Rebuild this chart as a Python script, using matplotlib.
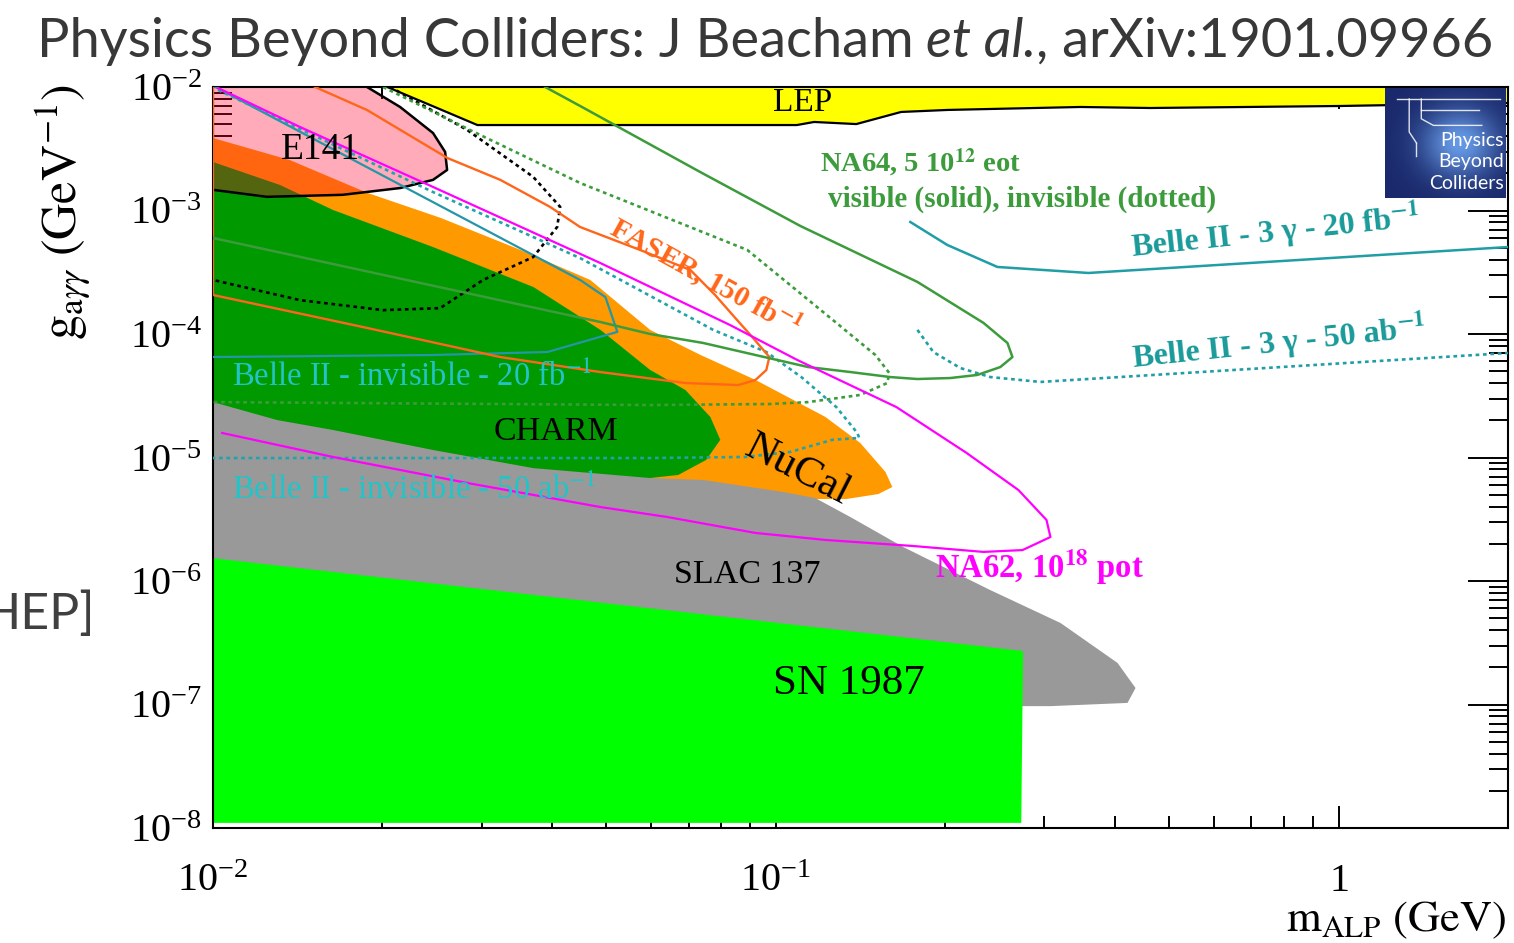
import numpy as np
import matplotlib.pyplot as plt
from matplotlib.ticker import LogLocator, NullFormatter

plt.rcParams.update({
    'mathtext.fontset': 'stix',
    'font.family': 'Liberation Serif',
})

# ---------------- excluded regions (m in GeV, g in GeV^-1) ----------------
lep_m = [0.0204, 0.0243, 0.0295, 0.0449, 0.109, 0.117, 0.139, 0.167, 0.202, 0.348, 0.463, 1.01, 2.0]
lep_g = [1.0e-2, 7.15e-3, 4.92e-3, 4.92e-3, 4.92e-3, 5.21e-3, 5.01e-3, 6.28e-3, 6.52e-3, 6.89e-3, 6.76e-3, 7.02e-3, 7.42e-3]

e141_m = [0.01, 0.01878, 0.0215, 0.0246, 0.02585, 0.02606, 0.0246, 0.0215, 0.0170, 0.01247, 0.01]
e141_g = [1e-2, 1e-2, 6.89e-3, 4.24e-3, 2.98e-3, 2.13e-3, 1.77e-3, 1.52e-3, 1.34e-3, 1.29e-3, 1.47e-3]

nucal_m = [0.01, 0.0137, 0.0188, 0.0254, 0.0352, 0.0468, 0.0598, 0.0735, 0.0920, 0.1225,
           0.1413, 0.1566, 0.1611, 0.1521, 0.1334, 0.1175, 0.1106, 0.01]
nucal_g = [3.86e-3, 2.56e-3, 1.39e-3, 8.7e-4, 4.79e-4, 2.74e-4, 1.08e-4, 6.76e-5, 4.25e-5, 2.13e-5,
           1.31e-5, 7.64e-6, 5.77e-6, 5.06e-6, 4.61e-6, 4.61e-6, 3.12e-6, 3.12e-6]

charm_m = [0.01, 0.01315, 0.01634, 0.0246, 0.0371, 0.0488, 0.0598, 0.0691, 0.0765, 0.0797,
           0.0752, 0.0671, 0.0598, 0.0574, 0.01]
charm_g = [2.47e-3, 1.61e-3, 1.01e-3, 5.06e-4, 2.40e-4, 1.08e-4, 5.12e-5, 3.52e-5, 2.13e-5, 1.39e-5,
           9.55e-6, 7.22e-6, 6.82e-6, 5.46e-6, 2.0e-5]

slac_m = [0.01, 0.0130, 0.01634, 0.0246, 0.0371, 0.0598, 0.0743, 0.1031, 0.1175, 0.1356, 0.1686,
          0.2404, 0.3206, 0.4048, 0.4357, 0.4217, 0.3077, 0.01]
slac_g = [2.81e-5, 2.01e-5, 1.67e-5, 1.15e-5, 8.2e-6, 6.82e-6, 6.58e-6, 5.26e-6, 4.70e-6, 3.3e-6, 1.88e-6,
          8.45e-7, 4.57e-7, 2.17e-7, 1.36e-7, 1.03e-7, 9.7e-8, 9.7e-8]

sn_m = [0.01, 0.275, 0.273, 0.01]
sn_g = [1.53e-6, 2.71e-7, 1.1e-8, 1.1e-8]

# ---------------- projected sensitivities ----------------
faser_m = [0.0100, 0.0100, 0.01878, 0.03237, 0.04875, 0.06905, 0.08577, 0.0920, 0.0962, 0.0974,
           0.0908, 0.0847, 0.0780, 0.0705, 0.0574, 0.0449, 0.0397, 0.0324, 0.0261, 0.01878, 0.01518]
faser_g = [1e-2, 2.07e-4, 1.12e-4, 6.51e-5, 4.92e-5, 4.01e-5, 3.86e-5, 4.24e-5, 5.11e-5, 6.51e-5,
           9.46e-5, 1.35e-4, 2.07e-4, 3.30e-4, 4.79e-4, 7.35e-4, 1.07e-3, 1.77e-3, 2.66e-3, 6.51e-3, 1e-2]

na64_vis_m = [0.03892, 0.04491, 0.07339, 0.1106, 0.1785, 0.2339, 0.2580, 0.2633, 0.2506, 0.2281,
              0.2042, 0.1785, 0.1598, 0.1357, 0.1142, 0.0920, 0.0743, 0.0598, 0.0488, 0.01]
na64_vis_g = [1.0e-2, 7.02e-3, 2.05e-3, 7.49e-4, 2.64e-4, 1.23e-4, 8.46e-5, 6.51e-5, 5.40e-5, 4.66e-5,
              4.40e-5, 4.32e-5, 4.48e-5, 4.92e-5, 5.40e-5, 6.76e-5, 8.46e-5, 1.0e-4, 1.25e-4, 5.99e-4]

na64_inv_m = [0.02005, 0.02983, 0.04491, 0.0890, 0.1276, 0.1503, 0.1591, 0.1578, 0.1413, 0.1142,
              0.0974, 0.0598, 0.01]
na64_inv_g = [1.0e-2, 4.09e-3, 1.67e-3, 4.79e-4, 1.25e-4, 6.76e-5, 4.83e-5, 4.01e-5, 3.21e-5, 2.81e-5,
              2.71e-5, 2.66e-5, 2.81e-5]

na62_m = [0.01021, 0.01428, 0.02461, 0.04875, 0.0830, 0.1092, 0.1638, 0.2182, 0.2699, 0.3027, 0.3076,
          0.2744, 0.2339, 0.1755, 0.1225, 0.0920, 0.0641, 0.0488, 0.0283, 0.01634, 0.01038]
na62_g = [9.81e-3, 4.74e-3, 1.55e-3, 3.76e-4, 1.18e-4, 6.16e-5, 2.56e-5, 1.09e-5, 5.45e-6, 3.12e-6, 2.27e-6,
          1.78e-6, 1.72e-6, 1.92e-6, 2.15e-6, 2.45e-6, 3.30e-6, 3.97e-6, 6.22e-6, 1.01e-5, 1.58e-5]

beam_dump_m = [0.02064, 0.02829, 0.03707, 0.04139, 0.04088, 0.03707, 0.0302, 0.02533, 0.02005, 0.01428, 0.0100]
beam_dump_g = [1e-2, 4.49e-3, 1.87e-3, 1.07e-3, 7.35e-4, 4.20e-4, 2.74e-4, 1.62e-4, 1.56e-4, 1.88e-4, 2.74e-4]

belle_inv20_m = [0.0101, 0.0449, 0.0498, 0.0523, 0.0393, 0.0246, 0.01]
belle_inv20_g = [1e-2, 2.74e-4, 1.99e-4, 1.04e-4, 7.15e-5, 6.76e-5, 6.51e-5]

belle_inv50_m = [0.01021, 0.02461, 0.0449, 0.0774, 0.0962, 0.1110, 0.1281, 0.1396, 0.1407, 0.1260,
                 0.1061, 0.0883, 0.0598, 0.01]
belle_inv50_g = [9.46e-3, 1.41e-3, 4.12e-4, 1.08e-4, 7.15e-5, 4.48e-5, 2.56e-5, 1.58e-5, 1.44e-5, 1.39e-5,
                 1.11e-5, 1.01e-5, 9.9e-6, 9.9e-6]

belle_3g20_m = [0.1734, 0.2017, 0.2476, 0.3594, 2.0]
belle_3g20_g = [8.07e-4, 5.26e-4, 3.49e-4, 3.12e-4, 5.06e-4]

belle_3g50_m = [0.1785, 0.1905, 0.2128, 0.2406, 0.2953, 0.5683, 2.0]
belle_3g50_g = [1.08e-4, 7.15e-5, 5.30e-5, 4.48e-5, 4.09e-5, 4.92e-5, 7.02e-5]

x_ticks = [0.01, 0.1, 1]
x_tick_labels = [r'$\mathdefault{10^{-2}}$', r'$\mathdefault{10^{-1}}$', r'$\mathdefault{1}$']

# ---------------- figure ----------------
W, H = 1514, 943
fig = plt.figure(figsize=(W / 100, H / 100), dpi=100)
ax = fig.add_axes([213 / W, 1 - 828 / H, 1295 / W, 741 / H])
ax.set_xscale('log')
ax.set_yscale('log')
ax.set_xlim(0.01, 2.0)
ax.set_ylim(1e-8, 1e-2)
ax.set_axisbelow(True)

# filled regions
ax.fill(lep_m + [2.0], lep_g + [1e-2], color='#ffff00', lw=0, zorder=1.0)
ax.fill(nucal_m, nucal_g, color='#ff9900', lw=0, zorder=1.1)
ax.fill(charm_m, charm_g, color='#009900', lw=0, zorder=1.2)
ax.fill(slac_m, slac_g, color='#999999', lw=0, zorder=1.3)
ax.fill(sn_m, sn_g, color='#00ff00', lw=0, zorder=1.4)
ax.fill(e141_m, e141_g, color=(1.0, 0.0, 0.19), alpha=0.33, lw=0, zorder=2.0)
ax.plot(lep_m, lep_g, color='black', lw=1.6, zorder=3)
ax.plot(e141_m[1:], e141_g[1:], color='black', lw=1.8, zorder=3)

# sensitivity curves
dots = (0, (1.4, 1.4))
ax.plot(belle_inv20_m, belle_inv20_g, color='#2596a6', lw=1.6, zorder=3)
ax.plot(belle_inv50_m, belle_inv50_g, color='#22a3ab', lw=1.9, ls=dots, zorder=3)
ax.plot(belle_3g20_m, belle_3g20_g, color='#1f9ea6', lw=1.8, zorder=3)
ax.plot(belle_3g50_m, belle_3g50_g, color='#1f9ea6', lw=1.9, ls=dots, zorder=3)
ax.plot(beam_dump_m, beam_dump_g, color='black', lw=1.9, ls=dots, zorder=3)
ax.plot(faser_m, faser_g, color='#ff6619', lw=1.7, zorder=3)
ax.plot(na64_inv_m, na64_inv_g, color='#3c9c3c', lw=1.9, ls=dots, zorder=3)
ax.plot(na64_vis_m, na64_vis_g, color='#3c9c3c', lw=1.8, zorder=3)
ax.plot(na62_m, na62_g, color='#ff00ff', lw=1.6, zorder=3)

# region labels
ax.text(0.1114, 7.42e-3, 'LEP', fontsize=24, ha='center', va='center', zorder=4)
ax.text(0.0155, 3.09e-3, 'E141', fontsize=27, ha='center', va='center', zorder=4)
ax.text(0.0406, 1.61e-5, 'CHARM', fontsize=24.5, ha='center', va='center', zorder=4)
ax.text(0.1092, 7.9e-6, 'NuCal', fontsize=31, ha='center', va='center', rotation=-27, zorder=4)
ax.text(0.0890, 1.12e-6, 'SLAC 137', fontsize=24.5, ha='center', va='center', zorder=4)
ax.text(0.1346, 1.47e-7, 'SN 1987', fontsize=31, ha='center', va='center', zorder=4)

ax.text(0.0749, 2.9e-4, r'FASER, 150 fb$^{\mathbf{-1}}$', fontsize=21, weight='bold', color='#ff6619',
        ha='center', va='center', rotation=-29, zorder=4)
ax.text(0.1200, 2.47e-3, r'NA64, 5 10$^{\mathbf{12}}$ eot', fontsize=20.5, weight='bold', color='#3c9c3c',
        ha='left', va='center', zorder=4)
ax.text(0.1239, 1.24e-3, 'visible (solid), invisible (dotted)', fontsize=21, weight='bold',
        color='#3c9c3c', ha='left', va='center', zorder=4)
ax.text(0.773, 6.7e-4, r'Belle II - 3 γ - 20 fb$^{\mathbf{-1}}$', fontsize=23, weight='bold',
        color='#1a9a9a', ha='center', va='center', rotation=6, zorder=4)
ax.text(0.782, 8.46e-5, r'Belle II - 3 γ - 50 ab$^{\mathbf{-1}}$', fontsize=23, weight='bold',
        color='#1a9a9a', ha='center', va='center', rotation=6, zorder=4)
ax.text(0.01081, 4.49e-5, r'Belle II - invisible - 20 fb$^{-1}$', fontsize=23.5, color='#22c4c8',
        ha='left', va='center', zorder=4)
ax.text(0.01081, 5.46e-6, r'Belle II - invisible - 50 ab$^{-1}$', fontsize=23.5, color='#22c4c8',
        ha='left', va='center', zorder=4)
ax.text(0.1921, 1.30e-6, r'NA62, 10$^{\mathbf{18}}$ pot', fontsize=23.5, weight='bold', color='#ff00ff',
        ha='left', va='center', zorder=4)

# axes, ticks
ax.set_xticks(x_ticks)
ax.set_xticklabels(x_tick_labels)
ax.xaxis.set_minor_locator(LogLocator(base=10, subs=np.arange(2, 10), numticks=20))
ax.yaxis.set_major_locator(LogLocator(base=10, numticks=20))
ax.yaxis.set_minor_locator(LogLocator(base=10, subs=np.arange(2, 10), numticks=20))
ax.xaxis.set_minor_formatter(NullFormatter())
ax.yaxis.set_minor_formatter(NullFormatter())
ax.tick_params(which='both', direction='in', top=True, right=True, width=1.4, labelsize=29)
ax.tick_params(axis='x', which='major', length=16, pad=25)
ax.tick_params(axis='x', which='minor', length=8.5)
ax.tick_params(axis='y', which='major', length=29, pad=8)
ax.tick_params(axis='y', which='minor', length=14)
for s in ax.spines.values():
    s.set_linewidth(1.5)

fig.text(63 / W, 1 - 84 / H, r'$\mathrm{g}_{\mathrm{a}\gamma\gamma}\ (\mathrm{GeV}^{\mathrm{-1}})$', fontsize=36,
         rotation=90, ha='center', va='top')
fig.text(1506 / W, 1 - 931 / H, r'$\mathrm{m}_{\mathrm{ALP}}\ (\mathrm{GeV})$', fontsize=32,
         ha='right', va='baseline')

# logo box, top right
logo = fig.add_axes([1385 / W, 1 - 198 / H, 121 / W, 110 / H])
yy, xx = np.mgrid[0:1:80j, 0:1:80j]
glow = np.exp(-((xx - 0.62) ** 2 + (yy - 0.5) ** 2) / 0.1)
dark = np.array([0.10, 0.16, 0.42])
light = np.array([0.40, 0.60, 0.90])
logo.imshow(dark + glow[..., None] * (light - dark), extent=(0, 1, 0, 1), origin='lower', aspect='auto')
for xs, ys in [([0.1, 0.95], [0.9, 0.9]), ([0.3, 0.78], [0.8, 0.8]), ([0.2, 0.2, 0.26], [0.9, 0.6, 0.5]),
               ([0.3, 0.3, 0.4, 0.8], [0.9, 0.72, 0.66, 0.66]), ([0.26, 0.26], [0.5, 0.38])]:
    logo.plot(xs, ys, color='white', lw=1.0, alpha=0.85)
for txt, yv in [('Physics', 0.52), ('Beyond', 0.33), ('Colliders', 0.13)]:
    logo.text(0.98, yv, txt, fontsize=14, family='Lato', color='white', ha='right', va='center')
logo.set_xlim(0, 1)
logo.set_ylim(0, 1)
logo.set_axis_off()

# header line
tstyle = dict(fontsize=39, family='Lato', color='#383838')
t1 = fig.text(37 / W, 1 - 57 / H, 'Physics Beyond Colliders: J Beacham', va='baseline', **tstyle)
t2 = ax.annotate('et al.', xy=(1, 0), xycoords=t1, xytext=(9, 0), textcoords='offset points',
                 va='bottom', style='italic', annotation_clip=False, **tstyle)
t3 = ax.annotate(', arXiv:1901.09966', xy=(1, 0), xycoords=t2, va='bottom',
                 annotation_clip=False, **tstyle)
fig.text(95 / W, 1 - 615 / H, 'HEP]', ha='right', va='center', fontsize=36, family='Lato',
         color='#404040')

fig.savefig('out.png', dpi=100)
